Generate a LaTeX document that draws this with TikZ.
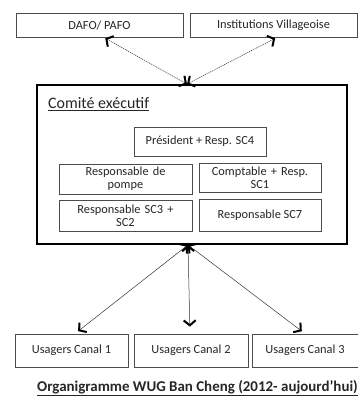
\documentclass[tikz,border=0pt]{standalone}
\usepackage{fontspec}
\setmainfont{Carlito}
\usetikzlibrary{arrows.meta,shadows}
\begin{document}
\begin{tikzpicture}[x=1bp,y=-1bp,
  box/.style={draw=black!70, line width=0.7bp, fill=white, inner sep=1bp,
    align=center, font=\fontsize{12.4}{13}\selectfont, text=black!85,
    drop shadow={shadow xshift=0.8bp, shadow yshift=-0.8bp, opacity=0.25, fill=black}},
  frame/.style={draw=black, line width=1.8bp, fill=white},
  tip/.tip={Straight Barb[length=5bp,width=12bp,line width=2bp,color=black]},
  link/.style={line width=0.5bp, draw=black!80, tip-tip},
  dlink/.style={link, dash pattern=on 1.2bp off 0.8bp}]
  \useasboundingbox (0,0) rectangle (358,398);

  % external partners
  \node[box, minimum width=167bp, minimum height=24bp] (dafo) at (99.5,25) {DAFO/ PAFO};
  \node[box, minimum width=167bp, minimum height=24bp] (inst) at (273.5,25) {Institutions Villageoise};

  % executive committee frame and its members
  \node[frame, minimum width=310bp, minimum height=159bp] (comite) at (192,164.5) {};
  \node[anchor=west, inner sep=0pt, font=\fontsize{16}{17}\selectfont, text=black!85] (titre) at (48,104.5)
    {\underline{Comité exécutif}};
  \node[box, minimum width=132bp, minimum height=29bp] (pres) at (200,141.5) {Président + Resp. SC4};
  \node[box, minimum width=133bp, minimum height=30bp, text width=125bp] (pompe) at (125.5,179) {Responsable de\\pompe};
  \node[box, minimum width=122bp, minimum height=29bp, text width=118bp] (compt) at (260,177.5) {Comptable + Resp.\\SC1};
  \node[box, minimum width=133bp, minimum height=31bp, text width=125bp] (sc32) at (125.5,215.5) {Responsable SC3 +\\SC2};
  \node[box, minimum width=122bp, minimum height=32bp] (sc7) at (260,215) {Responsable SC7};

  % water users by canal
  \node[box, minimum width=113bp, minimum height=33bp] (u1) at (71.5,350.5) {Usagers Canal 1};
  \node[box, minimum width=114bp, minimum height=33bp] (u2) at (191,350.5) {Usagers Canal 2};
  \node[box, minimum width=106bp, minimum height=33bp] (u3) at (305,350.5) {Usagers Canal 3};

  % links
  \draw[dlink, shorten <=2bp, shorten >=0bp] ([xshift=4bp]dafo.south) -- ([xshift=-5bp]comite.north);
  \draw[dlink, shorten <=2bp, shorten >=0bp] ([xshift=3.5bp]inst.south) -- ([xshift=-5bp]comite.north);
  \draw[link, shorten <=0bp, shorten >=4bp] ([xshift=-4bp]comite.south) -- ([xshift=3.5bp]u1.north);
  \draw[link, shorten <=0bp, shorten >=7bp] ([xshift=-4bp]comite.south) -- ([xshift=-1bp]u2.north);
  \draw[link, shorten <=0bp, shorten >=4bp] ([xshift=-4bp]comite.south) -- ([xshift=0bp]u3.north);

  % caption
  \node[inner sep=0pt, font=\bfseries\fontsize{15}{16}\selectfont, text=black!85] (legende) at (197.5,388)
    {\underline{Organigramme WUG Ban Cheng (2012- aujourd’hui)}};
\end{tikzpicture}
\end{document}
